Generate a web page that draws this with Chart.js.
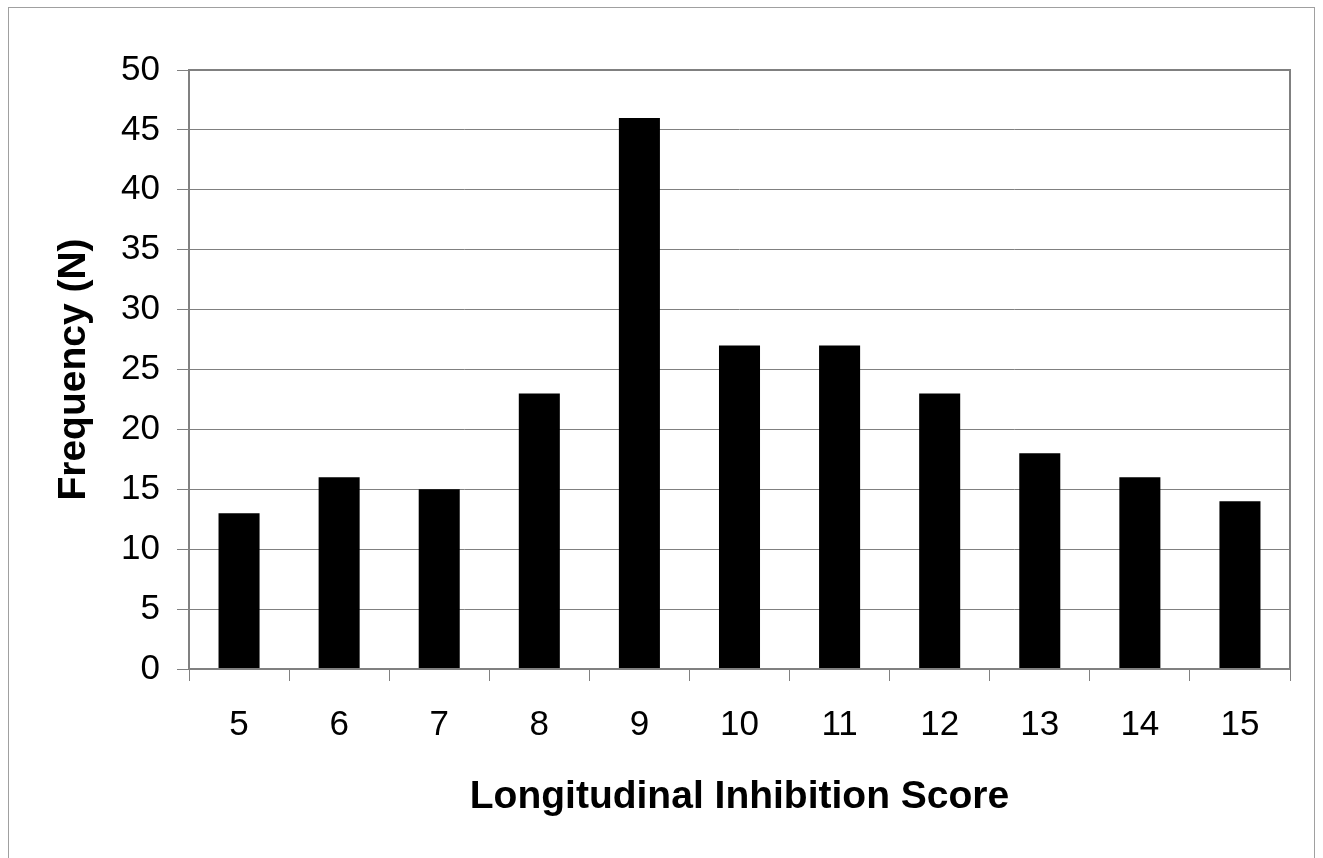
<!DOCTYPE html>
<html>
<head>
<meta charset="utf-8">
<script src="https://cdn.jsdelivr.net/npm/chart.js@4/dist/chart.umd.min.js"></script>
<style>
    html, body { margin: 0; padding: 0; background: #fff; }
    #wrap { position: relative; width: 1323px; height: 858px; overflow: hidden; }
    #frame { position: absolute; left: 8px; top: 7px; width: 1307px; height: 900px; border: 1px solid #a0a0a0; box-sizing: border-box; }
    #chartHist { position: absolute; left: 0; top: 0; }
</style>
</head>
<body>
<div id="wrap">
    <div id="frame"></div>
    <canvas id="chartHist" width="1323" height="858"></canvas>
</div>
<script>
// Dados do histograma
const scores = ['5', '6', '7', '8', '9', '10', '11', '12', '13', '14', '15'];
const frequencias = [13, 16, 15, 23, 46, 27, 27, 23, 18, 16, 14];
const yTicks = [0, 5, 10, 15, 20, 25, 30, 35, 40, 45, 50];

const fonte = 'Arial, "Liberation Sans", sans-serif';

// Borda cinza da área do gráfico
const bordaArea = {
    id: 'bordaArea',
    afterDraw(chart) {
        const { ctx, chartArea: a } = chart;
        ctx.save();
        ctx.strokeStyle = '#808080';
        ctx.lineWidth = 2;
        ctx.strokeRect(a.left, a.top, a.right - a.left, a.bottom - a.top);
        ctx.restore();
    }
};

const canvas = document.getElementById('chartHist');
new Chart(canvas.getContext('2d'), {
    type: 'bar',
    data: {
        labels: scores,
        datasets: [{
            data: frequencias,
            backgroundColor: '#000000',
            borderWidth: 0,
            barPercentage: 0.41,
            categoryPercentage: 1.0
        }]
    },
    options: {
        responsive: false,
        animation: false,
        devicePixelRatio: 1,
        layout: { padding: { top: 70, right: 33, left: 0, bottom: 0 } },
        plugins: { legend: { display: false }, tooltip: { enabled: false } },
        scales: {
            x: {
                offset: true,
                afterFit(scale) { scale.height = 189; },
                grid: { display: true, drawOnChartArea: false, offset: true, color: '#808080', tickLength: 12, lineWidth: 1 },
                border: { display: false },
                ticks: { color: '#000', font: { family: fonte, size: 35 }, padding: 23, maxRotation: 0 },
                title: { display: true, text: 'Longitudinal Inhibition Score', color: '#000',
                         font: { family: fonte, size: 39, weight: 'bold' }, padding: { bottom: 37 } }
            },
            y: {
                min: 0, max: 50,
                afterFit(scale) { scale.width = 189; },
                afterBuildTicks(scale) { scale.ticks = yTicks.map(v => ({ value: v })); },
                grid: { color: '#808080', tickLength: 12, lineWidth: 1 },
                border: { display: false },
                ticks: { color: '#000', font: { family: fonte, size: 35 }, padding: 17 },
                title: { display: true, text: 'Frequency (N)', color: '#000',
                         font: { family: fonte, size: 39, weight: 'bold' }, padding: { top: 51 } }
            }
        }
    },
    plugins: [bordaArea]
});
</script>
</body>
</html>
